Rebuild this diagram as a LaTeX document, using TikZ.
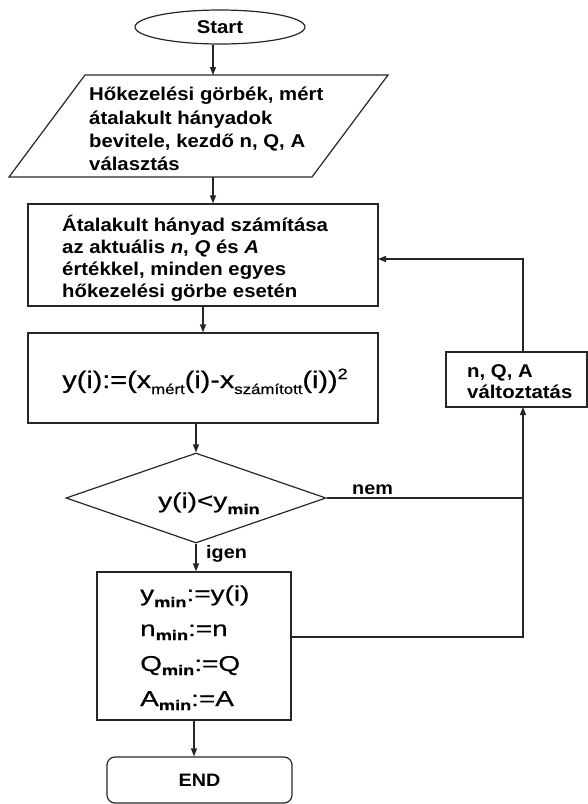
\documentclass[tikz,border=0pt]{standalone}
\usepackage{fontspec}
\setmainfont{Liberation Sans}
\newfontfamily\bsf[FakeStretch=1.1]{Liberation Sans}
\newfontfamily\wsf[FakeStretch=1.3,FakeBold=0.6]{Liberation Sans}
\newfontfamily\fsf[FakeStretch=1.2,FakeBold=0.6]{Liberation Sans}
\usetikzlibrary{arrows.meta,shapes.geometric}
\newcommand{\lowsub}[2][6pt]{\raisebox{-#1}{\fontsize{14}{14}\selectfont #2}}
\newcommand{\lowsubb}[2][6pt]{\raisebox{-#1}{\fontsize{14}{14}\selectfont\bfseries #2}}
\newcommand{\upsup}[1]{\raisebox{9pt}{\fontsize{15}{15}\selectfont #1}}
\tikzset{
  ln/.style={line width=1.2pt, draw=black!85},
  arr/.style={ln, -{Triangle[length=8pt,width=6pt]}},
  bx/.style={ln, rectangle, inner sep=0pt},
  btxt/.style={font={\bsf\bfseries\fontsize{18.5}{22.5}\selectfont}, inner sep=0pt, anchor=base west},
  wtxt/.style={font={\wsf\fontsize{21.5}{24}\selectfont}, inner sep=0pt, anchor=base west},
  lbl/.style={font={\bsf\bfseries\fontsize{18}{20}\selectfont}, inner sep=0pt, anchor=base west}
}
\begin{document}
\begin{tikzpicture}[x=1pt,y=-1pt]
\useasboundingbox (0,0) rectangle (588,804);
% Start
\node[ln, ellipse, minimum width=170, minimum height=34, inner sep=0pt,
      font={\bsf\bfseries\fontsize{18.5}{20}\selectfont}] (start) at (220,27) {Start};
% input parallelogram
\coordinate (p1) at (85,75);
\coordinate (p2) at (388,75);
\coordinate (p3) at (312,177);
\coordinate (p4) at (9,177);
\draw[ln] (p1) -- (p2) -- (p3) -- (p4) -- cycle;
\coordinate (ptop) at (213,75);
\coordinate (pbot) at (213,177);
\node[btxt] (i1) at (89,100) {Hőkezelési görbék, mért};
\node[btxt] (i2) at (89,124) {átalakult hányadok};
\node[btxt] (i3) at (89,147) {bevitele, kezdő n, Q, A};
\node[btxt] (i4) at (89,170) {választás};
% box 1
\node[bx, minimum width=350, minimum height=102] (box1) at (203,255) {};
\node[btxt] (b1) at (62,231) {Átalakult hányad számítása};
\node[btxt] (b2) at (62,253) {az aktuális \textit{n}, \textit{Q} és \textit{A}};
\node[btxt] (b3) at (62,275) {értékkel, minden egyes};
\node[btxt] (b4) at (62,297) {hőkezelési görbe esetén};
% box 2
\node[bx, minimum width=350, minimum height=90] (box2) at (203,378) {};
\node[font={\fsf\fontsize{24}{26}\selectfont}, inner sep=0pt, anchor=base] (form) at (205,388)
  {y(i):=(x\lowsub{mért}(i)-x\lowsub{számított}(i))\upsup{2}};
% diamond
\node[ln, diamond, minimum width=260, minimum height=90, inner sep=0pt] (dia) at (196,498) {};
\node[wtxt] (dtxt) at (158,508) {y(i)<y\lowsubb{min}};
% update box
\node[bx, minimum width=194, minimum height=148] (upd) at (194,646) {};
\node[wtxt] (u1) at (140,601) {y\lowsubb{min}:=y(i)};
\node[wtxt] (u2) at (140,636) {n\lowsubb[4pt]{min}:=n};
\node[wtxt] (u3) at (140,671) {Q\lowsubb[4pt]{min}:=Q};
\node[wtxt] (u4) at (140,706) {A\lowsubb[4pt]{min}:=A};
% END
\node[ln, rectangle, rounded corners=8pt, minimum width=185, minimum height=46, inner sep=0pt,
      font={\bsf\bfseries\fontsize{18}{20}\selectfont}] (endn) at (199.5,780) {END};
% change box
\node[bx, minimum width=141, minimum height=55] (chg) at (516.5,379.5) {};
\node[btxt] (c1) at (467,377) {n, Q, A};
\node[btxt] (c2) at (467,398) {változtatás};
\coordinate (cb) at (523,407);
\coordinate (ct) at (523,352);
\coordinate (b1r) at (378,259);
\coordinate (updr) at (291,637);
% connectors
\draw[arr] (start.south -| ptop) -- (ptop);
\draw[arr] (pbot) -- (pbot |- box1.north);
\draw[arr] (box1.south) -- (box2.north);
\draw[arr] (box2.south -| dia.north) -- (dia.north);
\draw[arr] (dia.south) -- (dia.south |- upd.north);
\draw[arr] (upd.south) -- (upd.south |- endn.north);
\draw[ln] (dia.east) -- (dia.east -| cb);
\draw[arr] (updr) -| (cb);
\draw[arr] (ct) |- (b1r);
% labels
\node[lbl] (nem) at (352,494) {nem};
\node[lbl] (igen) at (206,558) {igen};
\end{tikzpicture}
\end{document}
